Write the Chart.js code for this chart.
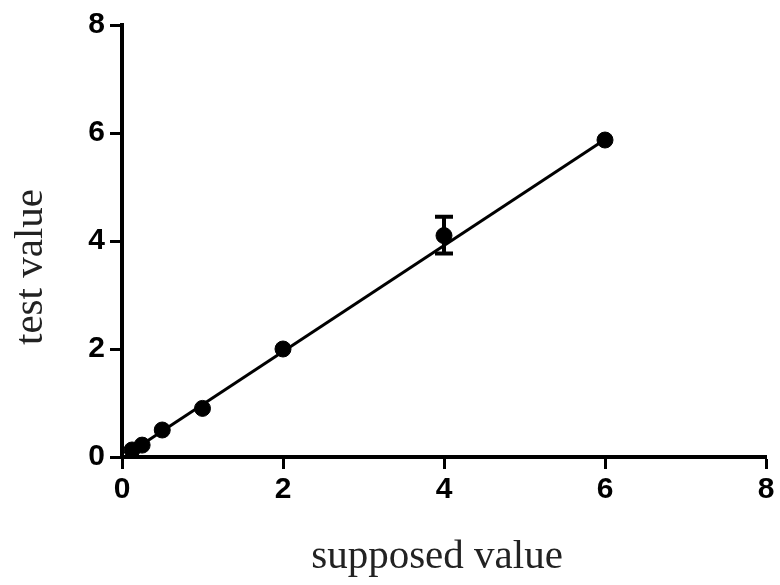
<!DOCTYPE html>
<html>
<head>
<meta charset="utf-8">
<script src="https://cdn.jsdelivr.net/npm/chart.js@4.4.1/dist/chart.umd.min.js"></script>
<style>
html,body{margin:0;padding:0;background:#fff;}
#wrap{width:780px;height:585px;position:relative;}
</style>
</head>
<body>
<div id="wrap"><canvas id="c" width="780" height="585"></canvas></div>
<script>
// Data
const suppliedX = [0.125, 0.25, 0.5, 1, 2, 4, 6];
const testY     = [0.13, 0.22, 0.5, 0.9, 2.0, 4.1, 5.87];
const errLow    = [0.13, 0.22, 0.5, 0.9, 2.0, 3.77, 5.87];
const errHigh   = [0.13, 0.22, 0.5, 0.9, 2.0, 4.45, 5.87];
const fitX      = [0.125, 6];
const fitY      = [0.11, 5.88];
const xTicks    = [0, 2, 4, 6, 8];
const yTicks    = [0, 2, 4, 6, 8];
const xTitle    = 'supposed value';
const yTitle    = 'test value';

const pts = suppliedX.map((x, i) => ({x: x, y: testY[i]}));
const fit = fitX.map((x, i) => ({x: x, y: fitY[i]}));

const errorBars = {
  id: 'errorBars',
  afterDatasetsDraw(chart) {
    const {ctx, scales: {x, y}} = chart;
    ctx.save();
    ctx.strokeStyle = '#000';
    ctx.lineWidth = 4;
    suppliedX.forEach((xv, i) => {
      if (errHigh[i] - errLow[i] < 0.05) return;
      const px = x.getPixelForValue(xv);
      const pt = y.getPixelForValue(errHigh[i]);
      const pb = y.getPixelForValue(errLow[i]);
      ctx.beginPath();
      ctx.moveTo(px, pt); ctx.lineTo(px, pb);
      ctx.moveTo(px - 9, pt); ctx.lineTo(px + 9, pt);
      ctx.moveTo(px - 9, pb); ctx.lineTo(px + 9, pb);
      ctx.stroke();
    });
    ctx.restore();
  }
};

const axisTitles = {
  id: 'axisTitles',
  afterDraw(chart) {
    const {ctx, chartArea} = chart;
    ctx.save();
    ctx.fillStyle = '#222';
    ctx.font = '41px "Liberation Serif", "Times New Roman", serif';
    ctx.textAlign = 'center';
    ctx.textBaseline = 'alphabetic';
    ctx.fillText(xTitle, (chartArea.left + chartArea.right) / 2 - 7, 568);
    ctx.translate(42, 267);
    ctx.rotate(-Math.PI / 2);
    ctx.fillText(yTitle, 0, 0);
    ctx.restore();
  }
};

const tickFont = {family: '"Liberation Sans", Arial, sans-serif', size: 30, weight: 'bold'};

new Chart(document.getElementById('c'), {
  type: 'scatter',
  data: {
    datasets: [
      {
        data: pts,
        backgroundColor: '#000',
        borderColor: '#000',
        pointRadius: 8,
        pointHoverRadius: 8,
        order: 1,
        clip: false
      },
      {
        data: fit,
        showLine: true,
        borderColor: '#000',
        borderWidth: 3,
        pointRadius: 0,
        fill: false,
        order: 2,
        clip: false
      }
    ]
  },
  options: {
    responsive: false,
    animation: false,
    events: [],
    layout: {padding: {left: 0, right: 14, top: 25, bottom: 0}},
    plugins: {legend: {display: false}, tooltip: {enabled: false}},
    scales: {
      x: {
        type: 'linear',
        min: 0, max: 8,
        afterBuildTicks: s => { s.ticks = xTicks.map(v => ({value: v})); },
        afterFit: s => { s.height = 128; },
        grid: {display: true, drawOnChartArea: false, drawTicks: true, tickLength: 12, tickWidth: 3, tickColor: '#000'},
        border: {display: true, width: 4, color: '#000'},
        ticks: {color: '#000', padding: 3, font: tickFont}
      },
      y: {
        type: 'linear',
        min: 0, max: 8,
        afterBuildTicks: s => { s.ticks = yTicks.map(v => ({value: v})); },
        afterFit: s => { s.width = 122; },
        grid: {display: true, drawOnChartArea: false, drawTicks: true, tickLength: 12, tickWidth: 3, tickColor: '#000'},
        border: {display: true, width: 4, color: '#000'},
        ticks: {color: '#000', padding: 5, font: tickFont}
      }
    }
  },
  plugins: [errorBars, axisTitles]
});
</script>
</body>
</html>
